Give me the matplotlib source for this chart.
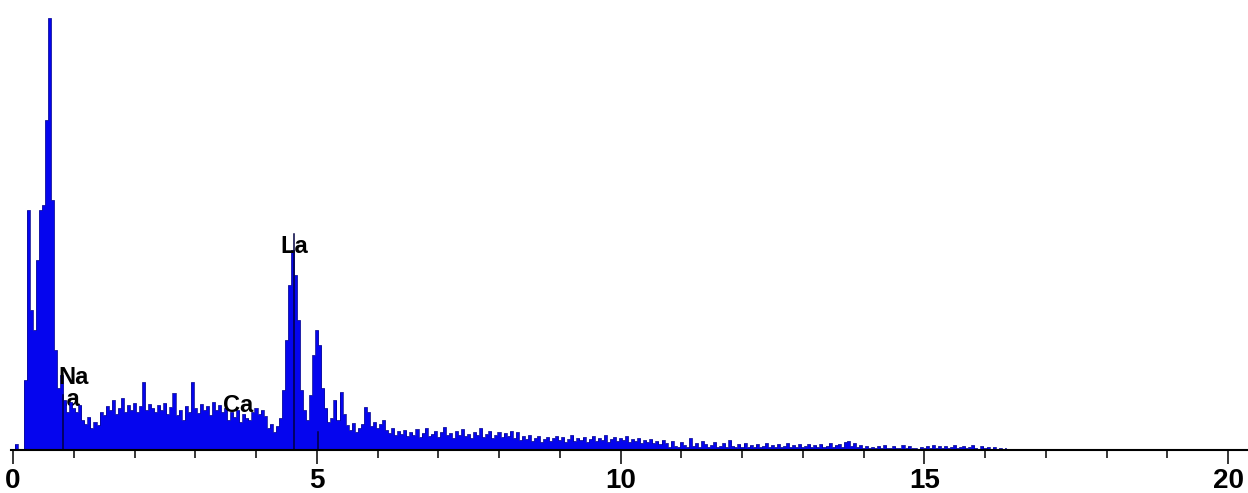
import numpy as np
import matplotlib
matplotlib.use("Agg")
import matplotlib.pyplot as plt

plt.rcParams['font.family'] = ['Liberation Sans', 'DejaVu Sans']

# EDS spectrum, 0.05 keV per channel starting at 0 keV
channel_width = 0.05
counts = [
    0, 6, 0, 0, 70, 240, 140, 120, 190, 240,            # 0.00 - 0.45
    245, 330, 432, 250, 100, 62, 75, 50, 38, 48,        # 0.50 - 0.95
    42, 38, 45, 30, 26, 33, 22, 28, 25, 38,             # 1.00 - 1.45
    35, 44, 40, 50, 36, 42, 52, 38, 45, 40,             # 1.50 - 1.95
    47, 38, 44, 68, 40, 46, 42, 38, 45, 40,             # 2.00 - 2.45
    47, 36, 43, 57, 35, 40, 30, 44, 38, 68,             # 2.50 - 2.95
    42, 37, 46, 40, 44, 35, 48, 40, 45, 38,             # 3.00 - 3.45
    42, 30, 38, 33, 40, 28, 36, 32, 30, 38,             # 3.50 - 3.95
    42, 36, 40, 34, 22, 26, 18, 24, 32, 60,             # 4.00 - 4.45
    110, 165, 200, 175, 130, 60, 40, 30, 55, 95,        # 4.50 - 4.95
    120, 105, 62, 42, 28, 32, 50, 30, 58, 36,           # 5.00 - 5.45
    25, 20, 27, 18, 22, 26, 43, 38, 24, 28,             # 5.50 - 5.95
    22, 26, 30, 20, 17, 22, 15, 19, 16, 20,             # 6.00 - 6.45
    14, 18, 15, 21, 13, 17, 22, 14, 16, 19,             # 6.50 - 6.95
    13, 18, 23, 15, 17, 12, 19, 15, 21, 14,             # 7.00 - 7.45
    16, 12, 18, 15, 22, 13, 16, 19, 12, 15,             # 7.50 - 7.95
    18, 13, 17, 14, 19, 12, 18, 10, 14, 11,             # 8.00 - 8.45
    15, 9, 12, 14, 8, 11, 13, 9, 12, 14,                # 8.50 - 8.95
    10, 13, 8, 11, 15, 9, 12, 10, 13, 8,                # 9.00 - 9.45
    11, 14, 9, 12, 10, 15, 8, 11, 13, 9,                # 9.50 - 9.95
    12, 10, 14, 8, 11, 9, 12, 7, 10, 8,                 # 10.00 - 10.45
    11, 7, 9, 6, 10, 7, 3, 9, 4, 3,                     # 10.50 - 10.95
    8, 5, 3, 12, 4, 7, 3, 9, 6, 3,                      # 11.00 - 11.45
    5, 8, 3, 4, 7, 3, 10, 4, 3, 6,                      # 11.50 - 11.95
    3, 7, 3, 5, 3, 6, 3, 4, 7, 3,                       # 12.00 - 12.45
    5, 3, 6, 3, 4, 7, 3, 5, 3, 6,                       # 12.50 - 12.95
    3, 4, 6, 3, 5, 3, 6, 3, 4, 7,                       # 13.00 - 13.45
    3, 5, 6, 3, 8, 9, 4, 7, 3, 5,                       # 13.50 - 13.95
    2, 4, 2, 3, 2, 4, 2, 5, 2, 2,                       # 14.00 - 14.45
    4, 2, 2, 5, 2, 4, 2, 2, 0, 3,                       # 14.50 - 14.95
    2, 4, 2, 5, 2, 4, 2, 4, 2, 3,                       # 15.00 - 15.45
    5, 2, 3, 4, 2, 3, 5, 2, 0, 4,                       # 15.50 - 15.95
    2, 3, 0, 3, 0, 2, 0, 2,                             # 16.00 - 16.35
]
energy = np.arange(len(counts)) * channel_width

# element line markers: (energy keV, marker top)
marker_lines = [(0.83, 55), (4.63, 216), (5.02, 18)]

# peak labels: (text, energy keV, baseline height, drawn under the spectrum?)
peak_labels = [
    ("La", 4.63, 197, False),
    ("Na", 1.00, 66, False),
    ("La", 0.87, 44, True),
    ("Ca", 3.70, 38, False),
]

major_ticks = [0, 5, 10, 15, 20]
minor_ticks = list(range(0, 21))

fig = plt.figure(figsize=(12.48, 4.93), dpi=100)
ax = fig.add_axes([11 / 1248, 43 / 493, 1237 / 1248, 450 / 493])

ax.fill_between(energy, counts, step='mid', color='#0505ee', lw=0, zorder=2)
ax.step(energy, counts, where='mid', color='#00008c', lw=0.5, zorder=2.1)

for e, top in marker_lines:
    ax.plot([e, e], [0, top], color='#000040', lw=1.1, zorder=4)

for txt, e, y, under in peak_labels:
    ax.text(e, y, txt, ha='center', va='baseline', fontsize=17,
            fontweight='bold', color='black', zorder=1 if under else 3)

ax.set_xlim(-2 / 60.75, 1237 / 60.75 - 2 / 60.75)
ax.set_ylim(0, 450)

for side in ['left', 'right', 'top']:
    ax.spines[side].set_visible(False)
ax.spines['bottom'].set_linewidth(1.5)
ax.spines['bottom'].set_zorder(5)
ax.set_yticks([])

ax.set_xticks(major_ticks)
ax.set_xticks(minor_ticks, minor=True)
ax.set_xticklabels([str(t) for t in major_ticks])
ax.tick_params(axis='x', which='major', length=10, width=1.1, pad=3,
               labelsize=20)
ax.tick_params(axis='x', which='minor', length=5.8, width=1.1)
for lbl in ax.get_xticklabels():
    lbl.set_fontweight('bold')

fig.savefig('out.png', dpi=100)
